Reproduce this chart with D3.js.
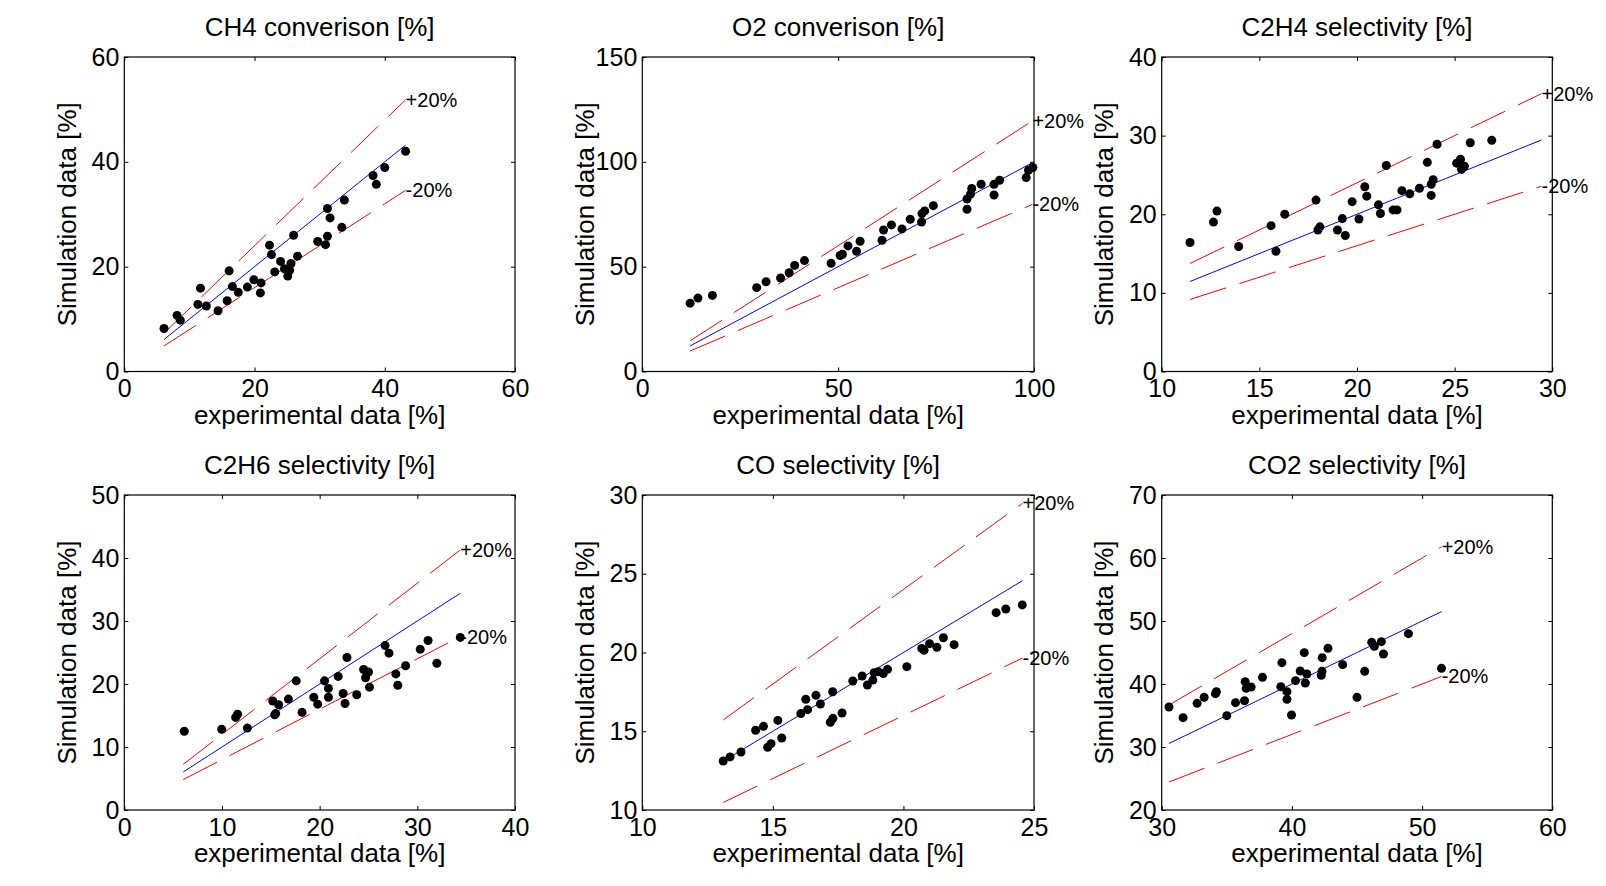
<!DOCTYPE html>
<html>
<head>
<meta charset="utf-8">
<script src="https://cdn.jsdelivr.net/npm/d3@7"></script>
<style>
  html, body { margin: 0; padding: 0; background: #fff; }
  svg { display: block; font-family: "Liberation Sans", Arial, sans-serif; }
</style>
</head>
<body>
<svg id="chart" width="1606" height="886"></svg>
<script>
// ---------------- data ----------------
const titles = ["CH4 converison [%]", "O2 converison [%]", "C2H4 selectivity [%]",
                "C2H6 selectivity [%]", "CO selectivity [%]", "CO2 selectivity [%]"];
const xLabel = "experimental data [%]";
const yLabel = "Simulation data [%]";
const upperLabel = "+20%";
const lowerLabel = "-20%";

const xDomains = [[0, 60], [0, 100], [10, 30], [0, 40], [10, 25], [30, 60]];
const yDomains = [[0, 60], [0, 150], [0, 40], [0, 50], [10, 30], [20, 70]];
const xTickValues = [[0, 20, 40, 60], [0, 50, 100], [10, 15, 20, 25, 30], [0, 10, 20, 30, 40], [10, 15, 20, 25], [30, 40, 50, 60]];
const yTickValues = [[0, 20, 40, 60], [0, 50, 100, 150], [0, 10, 20, 30, 40], [0, 10, 20, 30, 40, 50], [10, 15, 20, 25, 30], [20, 30, 40, 50, 60, 70]];

// parity / ±20% lines: x range for each panel
const lineRanges = [[6.1, 43.2], [12.2, 99.6], [11.45, 29.45], [6.04, 34.4], [13.1, 24.56], [30.56, 51.5]];
const upperFactor = 1.2;
const lowerFactor = 0.8;

const ch4Exp = [6.1, 8.1, 8.6, 11.3, 11.7, 12.6, 14.4, 15.8, 16.1, 16.6, 17.5, 18.9, 19.9, 20.9, 21.0, 22.3, 22.6, 23.1, 24.0, 24.6, 25.1, 25.4, 25.6, 26.0, 26.6, 29.7, 30.9, 31.2, 31.2, 31.6, 33.4, 33.8, 38.2, 38.7, 40.0, 43.2];
const ch4Sim = [8.2, 10.7, 9.8, 12.8, 15.9, 12.5, 11.6, 13.5, 19.2, 16.2, 15.1, 16.1, 17.5, 15.0, 16.9, 24.1, 22.3, 19.0, 21.0, 19.6, 18.2, 19.3, 20.6, 26.0, 22.0, 24.8, 24.2, 25.8, 31.1, 29.3, 27.5, 32.7, 37.4, 35.7, 38.9, 42.0];

const o2Exp = [12.2, 14.2, 17.9, 29.2, 31.6, 35.3, 37.5, 38.9, 41.4, 48.2, 50.5, 51.1, 52.5, 54.7, 55.6, 61.2, 61.6, 63.6, 66.3, 68.4, 71.3, 71.4, 72.1, 74.3, 82.9, 82.9, 83.8, 84.1, 86.5, 89.8, 89.8, 91.2, 98.0, 98.6, 99.7];
const o2Sim = [32.6, 35.0, 36.3, 40.0, 42.8, 44.6, 47.1, 50.6, 52.9, 51.6, 55.3, 55.9, 59.9, 57.3, 62.1, 62.6, 67.5, 69.9, 68.0, 72.6, 71.3, 75.3, 76.6, 79.1, 82.3, 77.4, 84.6, 87.3, 89.3, 89.3, 84.2, 91.2, 92.5, 96.0, 97.3];

const c2h4Exp = [11.45, 12.65, 12.83, 13.94, 15.6, 15.85, 16.3, 17.9, 18.0, 18.1, 19.0, 19.25, 19.4, 19.75, 20.1, 20.4, 20.5, 21.1, 21.2, 21.5, 21.85, 22.05, 22.3, 22.7, 23.2, 23.6, 23.8, 23.8, 23.9, 24.1, 25.1, 25.3, 25.35, 25.5, 25.8, 26.9];
const c2h4Sim = [16.4, 19.0, 20.4, 15.9, 18.55, 15.3, 20.0, 21.8, 18.0, 18.4, 18.0, 19.45, 17.3, 21.6, 19.4, 23.5, 22.3, 21.2, 20.1, 26.2, 20.55, 20.55, 23.0, 22.6, 23.3, 26.6, 22.4, 23.8, 24.4, 28.9, 26.5, 27.0, 25.7, 26.1, 29.1, 29.4];

const c2h6Exp = [6.14, 9.97, 11.4, 11.6, 12.6, 15.2, 15.4, 15.5, 15.8, 16.8, 17.6, 18.2, 19.4, 19.8, 20.5, 20.9, 20.9, 21.9, 22.4, 22.6, 22.8, 23.8, 24.5, 24.7, 25.0, 25.1, 26.7, 27.1, 27.8, 28.0, 28.8, 30.3, 31.1, 32.0, 34.4];
const c2h6Sim = [12.5, 12.8, 14.7, 15.2, 13.0, 17.3, 15.1, 15.3, 16.7, 17.6, 20.5, 15.5, 17.9, 16.8, 20.5, 19.3, 17.9, 21.2, 18.5, 16.9, 24.2, 18.3, 22.3, 21.0, 21.9, 19.5, 26.1, 24.9, 21.6, 19.8, 22.9, 25.5, 26.9, 23.3, 27.4];

const coExp = [13.1, 13.36, 13.78, 14.34, 14.64, 14.8, 14.93, 15.19, 15.34, 16.07, 16.26, 16.33, 16.65, 16.82, 17.2, 17.3, 17.29, 17.65, 18.06, 18.42, 18.62, 18.83, 18.88, 19.04, 19.23, 19.39, 20.13, 20.7, 20.79, 21.0, 21.28, 21.53, 21.94, 23.55, 23.92, 24.55];
const coSim = [13.11, 13.37, 13.68, 15.06, 15.31, 13.98, 14.21, 15.69, 14.57, 16.12, 17.03, 16.37, 17.28, 16.73, 15.57, 15.82, 17.51, 16.16, 18.19, 18.51, 17.94, 18.25, 18.72, 18.78, 18.66, 18.93, 19.1, 20.26, 20.14, 20.56, 20.33, 20.94, 20.5, 22.53, 22.76, 23.02];

const co2Exp = [30.56, 31.64, 32.72, 33.26, 34.13, 34.2, 35.0, 35.67, 36.36, 36.41, 36.49, 36.87, 37.74, 39.15, 39.23, 39.62, 39.62, 39.97, 40.28, 40.64, 40.95, 41.03, 41.15, 42.26, 42.31, 42.33, 42.77, 43.9, 45.0, 45.59, 46.13, 46.33, 46.87, 47.03, 48.95, 51.49];
const co2Sim = [36.35, 34.66, 36.93, 37.88, 38.47, 38.78, 34.97, 37.04, 37.35, 40.37, 39.31, 39.52, 41.06, 39.58, 43.39, 38.78, 37.57, 35.08, 40.53, 42.06, 44.97, 40.16, 41.59, 41.38, 42.01, 44.18, 45.66, 43.07, 37.88, 42.01, 46.61, 45.98, 46.72, 44.76, 47.99, 42.49];

const expSeries = [ch4Exp, o2Exp, c2h4Exp, c2h6Exp, coExp, co2Exp];
const simSeries = [ch4Sim, o2Sim, c2h4Sim, c2h6Sim, coSim, co2Sim];

// ---------------- layout ----------------
const colX = [[124.3, 515], [642.3, 1034], [1161.7, 1552.3]];
const rowY = [[57, 371.5], [495, 810]];
const tickLen = 4;
const mainFont = 26;
const tickFont = 25;
const noteFont = 20;

const svg = d3.select("#chart");

titles.forEach((title, i) => {
  const [x0, x1] = colX[i % 3];
  const [y0, y1] = rowY[Math.floor(i / 3)];
  const x = d3.scaleLinear().domain(xDomains[i]).range([x0, x1]);
  const y = d3.scaleLinear().domain(yDomains[i]).range([y1, y0]);
  const g = svg.append("g");

  // axes with inward ticks
  const bottom = g.append("g").attr("transform", `translate(0,${y1})`)
    .call(d3.axisBottom(x).tickValues(xTickValues[i]).tickSize(-tickLen).tickPadding(8).tickFormat(d3.format("d")));
  const left = g.append("g").attr("transform", `translate(${x0},0)`)
    .call(d3.axisLeft(y).tickValues(yTickValues[i]).tickSize(-tickLen).tickPadding(5).tickFormat(d3.format("d")));
  const top = g.append("g").attr("transform", `translate(0,${y0})`)
    .call(d3.axisTop(x).tickValues(xTickValues[i]).tickSize(-tickLen).tickFormat(""));
  const right = g.append("g").attr("transform", `translate(${x1},0)`)
    .call(d3.axisRight(y).tickValues(yTickValues[i]).tickSize(-tickLen).tickFormat(""));
  [bottom, left, top, right].forEach(a => {
    a.select(".domain").remove();
    a.selectAll(".tick line").attr("stroke", "#000").attr("stroke-width", 1);
    a.selectAll(".tick text").attr("font-size", tickFont).attr("fill", "#000")
      .attr("font-family", "Liberation Sans, Arial, sans-serif");
  });

  // box
  g.append("rect").attr("x", x0).attr("y", y0).attr("width", x1 - x0).attr("height", y1 - y0)
    .attr("fill", "none").attr("stroke", "#000").attr("stroke-width", 1.2);

  // reference lines
  const [lx0, lx1] = lineRanges[i];
  const refLines = [
    { f: upperFactor, color: "#ff0000", dash: "38,14" },
    { f: lowerFactor, color: "#ff0000", dash: "38,14" },
    { f: 1, color: "#0000ff", dash: null }
  ];
  refLines.forEach(r => {
    g.append("line")
      .attr("x1", x(lx0)).attr("y1", y(lx0 * r.f))
      .attr("x2", x(lx1)).attr("y2", y(lx1 * r.f))
      .attr("stroke", r.color).attr("stroke-width", 1)
      .attr("stroke-dasharray", r.dash);
  });

  // points
  const pts = expSeries[i].map((v, k) => [v, simSeries[i][k]]);
  g.append("g").selectAll("circle").data(pts).join("circle")
    .attr("cx", d => x(d[0])).attr("cy", d => y(d[1])).attr("r", 4.5).attr("fill", "#000");

  // ±20% labels
  g.append("text").attr("x", x(lx1)).attr("y", y(lx1 * upperFactor)).attr("dy", "0.35em")
    .attr("font-size", noteFont).text(upperLabel);
  g.append("text").attr("x", x(lx1)).attr("y", y(lx1 * lowerFactor)).attr("dy", "0.35em")
    .attr("font-size", noteFont).text(lowerLabel);

  // title & axis labels
  g.append("text").attr("x", (x0 + x1) / 2).attr("y", y0 - 21).attr("text-anchor", "middle")
    .attr("font-size", mainFont).text(title);
  g.append("text").attr("x", (x0 + x1) / 2).attr("y", y1 + 52).attr("text-anchor", "middle")
    .attr("font-size", mainFont).text(xLabel);
  g.append("text").attr("transform", `translate(${x0 - 48.6},${(y0 + y1) / 2}) rotate(-90)`)
    .attr("text-anchor", "middle").attr("font-size", mainFont).text(yLabel);
});
</script>
</body>
</html>
